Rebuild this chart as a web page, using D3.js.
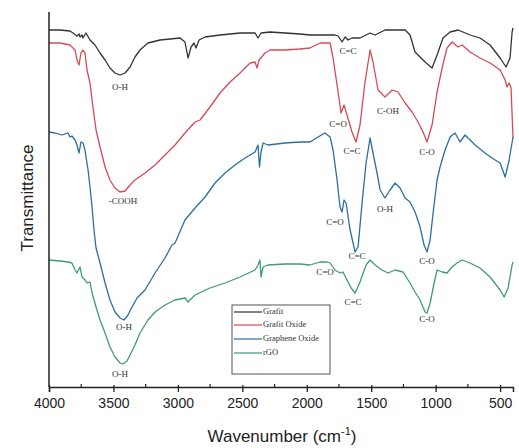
<!DOCTYPE html>
<html><head><meta charset="utf-8">
<script src="https://cdn.jsdelivr.net/npm/d3@7"></script>
<style>
html,body{margin:0;padding:0;background:#fff;}
svg{display:block;}
</style></head>
<body>
<svg id="chart" width="519" height="448"></svg>
<script>
// ---- data (wavenumber cm^-1, transmittance a.u. with vertical offsets) ----
const seriesNames = ["Grafit", "Grafit Oxide", "Graphene Oxide", "rGO"];
const seriesColors = ["#333333", "#d64a55", "#2c6ea0", "#3f9a7a"];
const xTicks = [4000, 3500, 3000, 2500, 2000, 1500, 1000, 500];

const grafit = [[4000,357],[3915,357],[3837,356],[3814,354],[3783,351],[3767,353],[3759,350],[3744,352],[3736,349],[3713,354],[3682,347],[3643,342],[3604,334],[3565,327],[3527,319],[3488,314],[3449,312],[3410,314],[3371,320],[3333,330],[3294,337],[3232,344],[3139,347],[3061,348],[2983,349],[2945,345],[2921,329],[2898,340],[2875,344],[2859,339],[2836,347],[2789,350],[2673,352],[2518,354],[2401,354],[2378,349],[2355,354],[2285,355],[2052,353],[1975,352],[1781,352],[1757,351],[1726,345],[1703,350],[1680,347],[1649,349],[1587,349],[1509,354],[1470,352],[1393,357],[1237,357],[1199,352],[1160,335],[1121,330],[1082,325],[1028,319],[989,332],[943,349],[888,355],[826,357],[733,352],[656,349],[578,342],[500,329],[454,320],[423,329],[407,355],[400,359]];

const grafitOxide = [[4000,344],[3915,344],[3837,342],[3798,337],[3783,327],[3767,322],[3752,334],[3736,337],[3721,334],[3705,317],[3682,304],[3659,280],[3635,257],[3604,240],[3565,220],[3527,207],[3488,199],[3449,195],[3410,196],[3371,202],[3333,207],[3255,214],[3177,222],[3100,232],[3022,242],[2945,254],[2867,265],[2828,267],[2751,280],[2673,294],[2595,305],[2518,314],[2440,324],[2401,325],[2386,319],[2370,327],[2324,334],[2285,337],[2169,337],[2052,338],[1975,339],[1897,344],[1819,344],[1796,329],[1757,295],[1734,274],[1711,282],[1688,272],[1649,255],[1618,245],[1587,262],[1548,305],[1509,337],[1486,325],[1447,297],[1393,290],[1338,297],[1292,295],[1237,284],[1183,275],[1137,265],[1098,255],[1067,245],[1028,262],[989,295],[950,319],[912,339],[873,345],[826,340],[795,342],[733,335],[656,329],[578,324],[500,317],[461,307],[446,300],[430,304],[415,299],[400,249]];

const grapheneOxide = [[4000,255],[3953,254],[3899,252],[3853,254],[3837,250],[3822,251],[3798,247],[3783,242],[3767,234],[3752,245],[3736,244],[3721,237],[3697,217],[3682,200],[3666,180],[3651,157],[3635,139],[3604,124],[3565,104],[3527,87],[3488,75],[3449,69],[3418,67],[3387,72],[3356,80],[3317,89],[3255,97],[3177,114],[3100,129],[3046,142],[3022,144],[2945,167],[2867,179],[2789,190],[2712,204],[2634,214],[2557,222],[2479,229],[2401,235],[2378,242],[2367,220],[2355,235],[2339,244],[2301,242],[2169,244],[2052,245],[1975,245],[1913,250],[1858,254],[1819,250],[1796,237],[1765,207],[1742,180],[1726,175],[1711,187],[1695,184],[1664,157],[1625,135],[1602,140],[1571,184],[1540,224],[1509,249],[1486,234],[1455,214],[1431,197],[1393,189],[1354,197],[1315,204],[1276,199],[1237,189],[1199,185],[1160,175],[1121,160],[1090,142],[1067,135],[1043,147],[1020,174],[989,207],[966,220],[927,237],[888,250],[850,254],[811,245],[772,252],[694,242],[617,234],[539,227],[500,224],[461,210],[430,227],[400,250]];

const rGO = [[4000,127],[3915,126],[3853,125],[3822,124],[3798,117],[3783,114],[3759,120],[3744,110],[3721,107],[3705,104],[3682,105],[3666,94],[3635,80],[3604,67],[3565,54],[3527,40],[3488,30],[3449,24],[3426,23],[3395,26],[3371,32],[3333,42],[3294,54],[3232,67],[3177,75],[3100,82],[3022,87],[2945,89],[2921,85],[2867,92],[2751,99],[2634,104],[2518,110],[2401,117],[2378,122],[2363,127],[2355,110],[2339,120],[2301,122],[2169,123],[2052,123],[1975,122],[1897,125],[1843,125],[1819,124],[1781,117],[1742,114],[1719,115],[1688,107],[1656,99],[1625,94],[1587,105],[1540,122],[1509,127],[1470,122],[1416,117],[1369,114],[1315,117],[1253,115],[1199,104],[1160,95],[1121,87],[1082,75],[1067,74],[1043,84],[1012,104],[989,117],[950,115],[912,114],[873,120],[834,124],[795,127],[733,124],[656,119],[578,110],[500,97],[469,90],[438,99],[407,122],[400,125]];

const annLabels = ["O-H","-COOH","O-H","O-H","C=C","C=O","C=C","C-OH","C-O","C=O","C=C","O-H","C-O","C=O","C=C","C-O"];
const annWn     = [3449, 3426, 3418, 3449, 1680, 1757, 1649, 1369, 1067, 1781, 1610, 1393, 1067, 1858, 1641, 1067];
const annT      = [299, 185, 59, 12, 335, 262, 235, 275, 234, 164, 130, 177, 125, 114, 84, 67];

// ---- layout ----
const svg = d3.select("#chart");
const L = 49, R = 513, T = 12, B = 387;
const x = d3.scaleLinear().domain([4000, 400]).range([L, R]);
const y = d3.scaleLinear().domain([0, 375]).range([B, T]);

const line = d3.line().x(d => x(d[0])).y(d => y(d[1]));
const allSeries = [grafit, grafitOxide, grapheneOxide, rGO];

allSeries.forEach((s, i) => {
  svg.append("path").datum(s)
    .attr("d", line)
    .attr("fill", "none")
    .attr("stroke", seriesColors[i])
    .attr("stroke-width", 1.3)
    .attr("stroke-linejoin", "round");
});

// annotations
svg.append("g").selectAll("text").data(annLabels).join("text")
  .attr("x", (d, i) => x(annWn[i]))
  .attr("y", (d, i) => y(annT[i]))
  .attr("text-anchor", "middle")
  .attr("dominant-baseline", "middle")
  .attr("font-family", "Liberation Serif, DejaVu Serif, serif")
  .attr("font-size", 9)
  .attr("fill", "#333")
  .text(d => d);

// axes
const xAxis = d3.axisBottom(x).tickValues(xTicks).tickSize(5).tickFormat(d3.format("d"));
const gx = svg.append("g").attr("transform", `translate(0,${B})`).call(xAxis);
gx.select(".domain").attr("stroke", "#222").attr("stroke-width", 1.5);
gx.selectAll(".tick line").attr("stroke", "#222").attr("stroke-width", 1.3).attr("y1", -2);
gx.selectAll(".tick text")
  .attr("font-family", "Liberation Sans, Arial, sans-serif")
  .attr("font-size", 14)
  .attr("fill", "#222")
  .attr("dy", "0.9em");
// minor ticks
const minor = d3.range(3750, 400, -500);
svg.append("g").selectAll("line").data(minor).join("line")
  .attr("x1", d => x(d)).attr("x2", d => x(d))
  .attr("y1", B - 3).attr("y2", B)
  .attr("stroke", "#222").attr("stroke-width", 1.2);

// left axis (no ticks)
svg.append("line").attr("x1", L).attr("x2", L).attr("y1", T).attr("y2", B)
  .attr("stroke", "#222").attr("stroke-width", 1.5);

// axis titles
const xt = svg.append("text")
  .attr("x", 282).attr("y", 442)
  .attr("text-anchor", "middle")
  .attr("font-family", "Liberation Sans, Arial, sans-serif")
  .attr("font-size", 17).attr("fill", "#222");
xt.append("tspan").text("Wavenumber (cm");
xt.append("tspan").attr("font-size", 11).attr("dy", -7).text("-1");
xt.append("tspan").attr("dy", 7).text(")");

svg.append("text")
  .attr("transform", "translate(33,198) rotate(-90)")
  .attr("text-anchor", "middle")
  .attr("font-family", "Liberation Sans, Arial, sans-serif")
  .attr("font-size", 17).attr("fill", "#222")
  .text("Transmittance");

// legend
const lg = svg.append("g");
lg.append("rect").attr("x", 232).attr("y", 305).attr("width", 98).attr("height", 69)
  .attr("fill", "#fff").attr("stroke", "#555").attr("stroke-width", 1);
const rowY = [312, 325, 339, 353];
seriesNames.forEach((n, i) => {
  lg.append("line").attr("x1", 234).attr("x2", 262).attr("y1", rowY[i]).attr("y2", rowY[i])
    .attr("stroke", seriesColors[i]).attr("stroke-width", 1.2);
  lg.append("text").attr("x", 263).attr("y", rowY[i]).attr("dominant-baseline", "middle")
    .attr("font-family", "Liberation Serif, DejaVu Serif, serif")
    .attr("font-size", 8.5).attr("fill", "#333").text(n);
});
</script>
</body></html>
